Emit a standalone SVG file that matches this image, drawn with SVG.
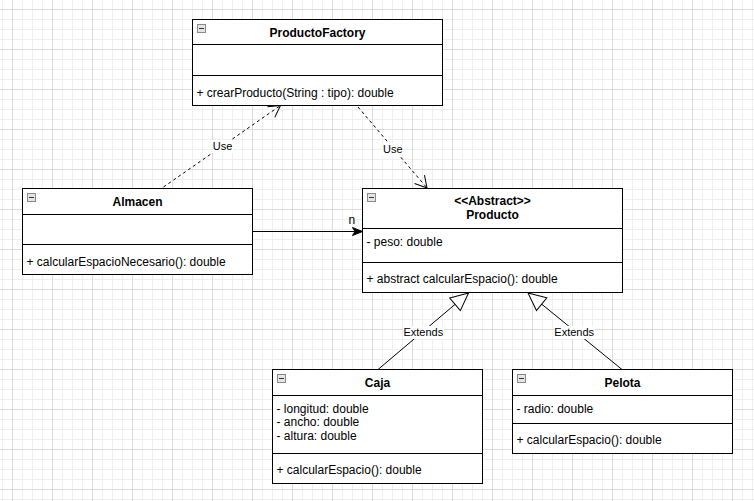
<svg xmlns="http://www.w3.org/2000/svg" width="754" height="501" viewBox="0 0 754 501">
<style>
.box{fill:#fff;stroke:#000;stroke-width:1}
.sep{stroke:#000;stroke-width:1}
.ico{fill:#e4e4e4;stroke:#8a8a8a;stroke-width:1}
.icm{stroke:#333;stroke-width:1}
text{font-family:"Liberation Sans",Arial,Helvetica,sans-serif;font-size:12px;fill:#000}
.ttl{font-weight:bold;text-anchor:middle}
.lbl{font-size:11px;text-anchor:middle}
.lbg{fill:#fff}
.edge{fill:none;stroke:#000;stroke-width:1}
.dash{stroke-dasharray:3 3}
</style>
<defs>
<pattern id="gMinor" patternUnits="userSpaceOnUse" x="2" y="9" width="10" height="10">
<path d="M0.5 0V10M0 0.5H10" stroke="#efefef" stroke-width="1" fill="none"/>
</pattern>
<pattern id="gMajor" patternUnits="userSpaceOnUse" x="12" y="9" width="40" height="40">
<path d="M0.5 0V40M0 0.5H40" stroke="#dcdcdc" stroke-width="1" fill="none"/>
</pattern>
<marker id="open" markerUnits="userSpaceOnUse" markerWidth="20" markerHeight="20" refX="12" refY="7" orient="auto" overflow="visible">
<path d="M0.5,0.5 L12,7 L0.5,13.5" fill="none" stroke="#000" stroke-width="1"/>
</marker>
<marker id="classic" markerUnits="userSpaceOnUse" markerWidth="14" markerHeight="10" refX="10" refY="4" orient="auto" overflow="visible">
<path d="M0,0 L10,4 L0,8 L2.5,4 Z" fill="#000" stroke="#000" stroke-width="1"/>
</marker>
<marker id="tri" markerUnits="userSpaceOnUse" markerWidth="20" markerHeight="20" refX="17.6" refY="8.2" orient="auto" overflow="visible">
<path d="M0,0 L17.6,8.2 L0,16.4 Z" fill="#fff" stroke="#000" stroke-width="1"/>
</marker>
</defs>
<rect width="754" height="501" fill="#fff"/>
<rect width="754" height="501" fill="url(#gMinor)"/>
<rect width="754" height="501" fill="url(#gMajor)"/>

<g id="connectors">
<path class="edge dash" d="M163.5,187 L280.5,105.5" marker-end="url(#open)"/>
<path class="edge dash" d="M358,107 L427,188" marker-end="url(#open)"/>
<path class="edge" d="M252.5,231.5 L362.5,231.5" marker-end="url(#classic)"/>
<path class="edge" d="M378,369.5 L468.5,293" marker-end="url(#tri)"/>
<path class="edge" d="M622,369.5 L528,293" marker-end="url(#tri)"/>
<rect class="lbg" x="212" y="140" width="21" height="13"/>
<text class="lbl" x="222.5" y="150">Use</text>
<rect class="lbg" x="382" y="143" width="21" height="13"/>
<text class="lbl" x="392.8" y="153.3">Use</text>
<text x="348.5" y="223.5">n</text>
<rect class="lbg" x="403" y="326" width="41" height="13"/>
<text class="lbl" x="423.3" y="336">Extends</text>
<rect class="lbg" x="554" y="326" width="41" height="13"/>
<text class="lbl" x="574.2" y="336">Extends</text>
</g>

<g id="ProductoFactory">
<rect class="box" x="192.5" y="19.5" width="250" height="86"/>
<line class="sep" x1="192.5" y1="44.5" x2="442.5" y2="44.5"/>
<line class="sep" x1="192.5" y1="75.5" x2="442.5" y2="75.5"/>
<rect class="ico" x="197.5" y="24.5" width="8" height="8"/>
<line class="icm" x1="199" y1="28.5" x2="204" y2="28.5"/>
<text class="ttl" x="317.5" y="37">ProductoFactory</text>
<text x="196.5" y="97">+ crearProducto(String : tipo): double</text>
</g>

<g id="Almacen">
<rect class="box" x="22.5" y="188.5" width="230" height="86"/>
<line class="sep" x1="22.5" y1="214.5" x2="252.5" y2="214.5"/>
<line class="sep" x1="22.5" y1="244.5" x2="252.5" y2="244.5"/>
<rect class="ico" x="27.5" y="193.5" width="8" height="8"/>
<line class="icm" x1="29" y1="197.5" x2="34" y2="197.5"/>
<text class="ttl" x="137.5" y="205.5">Almacen</text>
<text x="26.5" y="265.5">+ calcularEspacioNecesario(): double</text>
</g>

<g id="Producto">
<rect class="box" x="362.5" y="188.5" width="260" height="104"/>
<line class="sep" x1="362.5" y1="228.5" x2="622.5" y2="228.5"/>
<line class="sep" x1="362.5" y1="262.5" x2="622.5" y2="262.5"/>
<rect class="ico" x="367.5" y="193.5" width="8" height="8"/>
<line class="icm" x1="369" y1="197.5" x2="374" y2="197.5"/>
<text class="ttl" x="492.5" y="205">&lt;&lt;Abstract&gt;&gt;</text>
<text class="ttl" x="492.5" y="219">Producto</text>
<text x="366.5" y="245.5">- peso: double</text>
<text x="366.5" y="283">+ abstract calcularEspacio(): double</text>
</g>

<g id="Caja">
<rect class="box" x="272.5" y="369.5" width="210" height="114"/>
<line class="sep" x1="272.5" y1="395.5" x2="482.5" y2="395.5"/>
<line class="sep" x1="272.5" y1="453.5" x2="482.5" y2="453.5"/>
<rect class="ico" x="277.5" y="374.5" width="8" height="8"/>
<line class="icm" x1="279" y1="378.5" x2="284" y2="378.5"/>
<text class="ttl" x="377.5" y="387">Caja</text>
<text x="276.5" y="412.5">- longitud: double</text>
<text x="276.5" y="426">- ancho: double</text>
<text x="276.5" y="440">- altura: double</text>
<text x="276.5" y="473.5">+ calcularEspacio(): double</text>
</g>

<g id="Pelota">
<rect class="box" x="512.5" y="369.5" width="220" height="84"/>
<line class="sep" x1="512.5" y1="395.5" x2="732.5" y2="395.5"/>
<line class="sep" x1="512.5" y1="423.5" x2="732.5" y2="423.5"/>
<rect class="ico" x="517.5" y="374.5" width="8" height="8"/>
<line class="icm" x1="519" y1="378.5" x2="524" y2="378.5"/>
<text class="ttl" x="622.5" y="387">Pelota</text>
<text x="516.5" y="412.5">- radio: double</text>
<text x="516.5" y="443.5">+ calcularEspacio(): double</text>
</g>
</svg>
